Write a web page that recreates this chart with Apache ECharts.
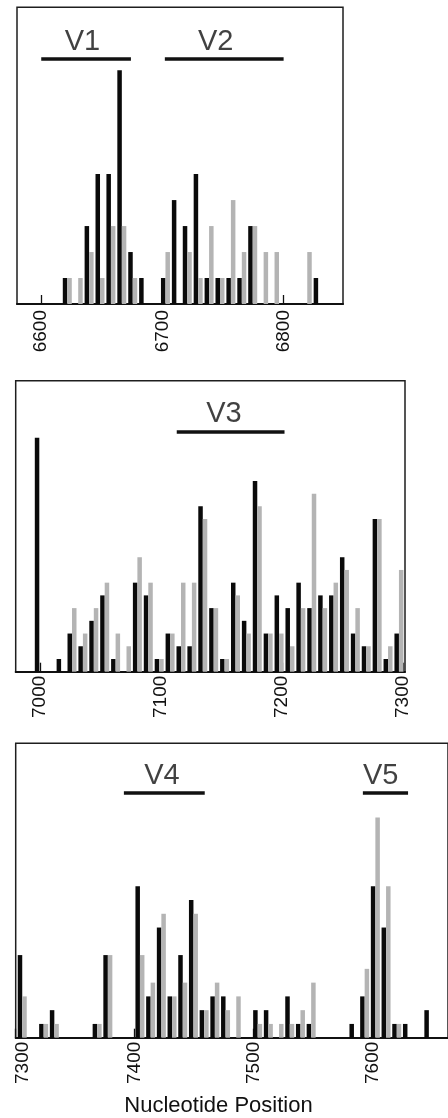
<!DOCTYPE html>
<html><head><meta charset="utf-8">
<script src="https://cdn.jsdelivr.net/npm/echarts@6/dist/echarts.min.js"></script>
<style>html,body{margin:0;padding:0;background:#fff}#c{width:448px;height:1118px}</style>
</head><body><div id="c"></div>
<script>
// ---- Data (9-nt bins; black = series A, gray = series B) ----
const p1Pos = [6621.5,6630.5,6639.5,6648.5,6657.5,6666.5,6675.5,6684.5,6693.5,6702.5,6711.5,6720.5,6729.5,6738.5,6747.5,6756.5,6765.5,6774.5,6783.5,6792.5,6801.5,6810.5,6819.5,6828.5];
const p1Black = [1,0,3,5,5,9,2,1,0,1,4,3,5,1,1,1,1,3,0,0,0,0,0,1];
const p1Gray  = [1,1,2,1,3,3,1,0,0,2,0,2,1,3,1,4,2,3,2,2,0,0,2,0];

const p2Pos = [6999.5,7008.5,7017.5,7026.5,7035.5,7044.5,7053.5,7062.5,7071.5,7080.5,7089.5,7098.5,7107.5,7116.5,7125.5,7134.5,7143.5,7152.5,7161.5,7170.5,7179.5,7188.5,7197.5,7206.5,7215.5,7224.5,7233.5,7242.5,7251.5,7260.5,7269.5,7278.5,7287.5,7296.5];
const p2Black = [18.4,0,1,3,2,4,6,1,0,7,6,1,3,2,2,13,5,1,7,4,15,3,6,5,7,5,6,6,9,3,2,12,1,3];
const p2Gray  = [0,0,0,5,3,5,7,3,2,9,7,1,3,7,7,12,5,1,6,3,13,3,3,2,5,14,5,7,8,5,2,12,2,8];

const p3Pos = [7305.5,7314.5,7323.5,7332.5,7341.5,7350.5,7359.5,7368.5,7377.5,7386.5,7395.5,7404.5,7413.5,7422.5,7431.5,7440.5,7449.5,7458.5,7467.5,7476.5,7485.5,7494.5,7503.5,7512.5,7521.5,7530.5,7539.5,7548.5,7557.5,7566.5,7575.5,7584.5,7593.5,7602.5,7611.5,7620.5,7629.5,7638.5,7647.5];
const p3Black = [6,0,1,2,0,0,0,1,6,0,0,11,3,8,3,6,10,2,3,3,0,0,2,2,0,3,1,1,0,0,0,1,3,11,8,1,1,0,2];
const p3Gray  = [3,0,1,1,0,0,0,1,6,0,0,6,4,9,3,4,9,2,4,2,3,0,1,1,1,1,2,4,0,0,0,0,5,16,11,1,0,0,0];

const p1Ticks = [6600,6700,6800];
const p2Ticks = [7000,7100,7200,7300];
const p3Ticks = [7300,7400,7500,7600];

// variable regions: nucleotide span and where the label sits
const p1Regions = [{name:'V1',start:6600,end:6674,at:6634},{name:'V2',start:6702,end:6800,at:6744}];
const p2Regions = [{name:'V3',start:7113,end:7202,at:7152}];
const p3Regions = [{name:'V4',start:7391,end:7459,at:7423},{name:'V5',start:7592,end:7630,at:7607}];

const axisTitle = 'Nucleotide Position';

// ---- Layout ----
const FONT = '"Liberation Sans", Arial, Helvetica, sans-serif';
const panels = [
  {pos:p1Pos, black:p1Black, gray:p1Gray, ticks:p1Ticks, regions:p1Regions,
   grid:{left:17, top:7.3, width:326, height:296.7}, xMin:6580, xMax:6849, yMax:11.42, lineY:9.44, margin:6},
  {pos:p2Pos, black:p2Black, gray:p2Gray, ticks:p2Ticks, regions:p2Regions,
   grid:{left:15.7, top:380.7, width:389.3, height:291}, xMin:6980, xMax:7301.5, yMax:22.88, lineY:18.9, margin:4},
  {pos:p3Pos, black:p3Black, gray:p3Gray, ticks:p3Ticks, regions:p3Regions,
   grid:{left:15.7, top:743.3, width:440, height:294.4}, xMin:7300, xMax:7663.6, yMax:21.38, lineY:17.8, margin:4, shiftFirst:true}
];

const grid = [], xAxis = [], yAxis = [], series = [];
panels.forEach((p, i) => {
  grid.push(Object.assign({show:true, borderColor:'#1e1e1e', borderWidth:1.5, backgroundColor:'transparent'}, p.grid));
  xAxis.push({
    type:'value', gridIndex:i, min:p.xMin, max:p.xMax,
    axisLine:{show:true, onZero:false, lineStyle:{color:'#111', width:2}},
    axisTick:{show:true, inside:true, length:9, customValues:p.ticks, lineStyle:{color:'#111', width:1.3}},
    axisLabel:{show:true, rotate:90, margin:p.margin, customValues:p.ticks,
      fontSize:19, color:'#111', fontFamily:FONT,
      formatter: v => (p.shiftFirst && v === p.ticks[0]) ? '{s|' + v + '}' : String(v),
      rich:{s:{fontSize:19, color:'#111', fontFamily:FONT, padding:[14,0,0,0]}}},
    splitLine:{show:false}
  });
  yAxis.push({type:'value', gridIndex:i, min:0, max:p.yMax, show:false, splitLine:{show:false}});
  series.push({
    type:'bar', xAxisIndex:i, yAxisIndex:i, barWidth:4.5, barGap:'0%',
    itemStyle:{color:'#0a0a0a'}, data:p.pos.map((x,k)=>[x,p.black[k]]), silent:true
  });
  series.push({
    type:'bar', xAxisIndex:i, yAxisIndex:i, barWidth:4.5, barGap:'0%',
    itemStyle:{color:'#b4b4b4'}, data:p.pos.map((x,k)=>[x,p.gray[k]]), silent:true
  });
  series.push({
    type:'lines', coordinateSystem:'cartesian2d', xAxisIndex:i, yAxisIndex:i, silent:true,
    lineStyle:{color:'#111', width:3.5, opacity:1}, symbol:'none',
    data:p.regions.map(r=>({coords:[[r.start,p.lineY],[r.end,p.lineY]]}))
  });
  series.push({
    type:'scatter', xAxisIndex:i, yAxisIndex:i, silent:true, symbolSize:1,
    itemStyle:{color:'rgba(0,0,0,0)'},
    label:{show:true, position:'top', distance:2, formatter:'{b}', fontSize:29, color:'#111', fontFamily:FONT},
    data:p.regions.map(r=>({name:r.name, value:[r.at, p.lineY]}))
  });
});

const chart = echarts.init(document.getElementById('c'), null, {renderer:'canvas'});
chart.setOption({
  animation:false,
  backgroundColor:'#fff',
  grid, xAxis, yAxis, series,
  graphic:[{type:'text', x:218.5, y:1106, silent:true,
    style:{text:axisTitle, fill:'#111', font:'22px ' + FONT, align:'center', verticalAlign:'middle'}}]
});
</script></body></html>
